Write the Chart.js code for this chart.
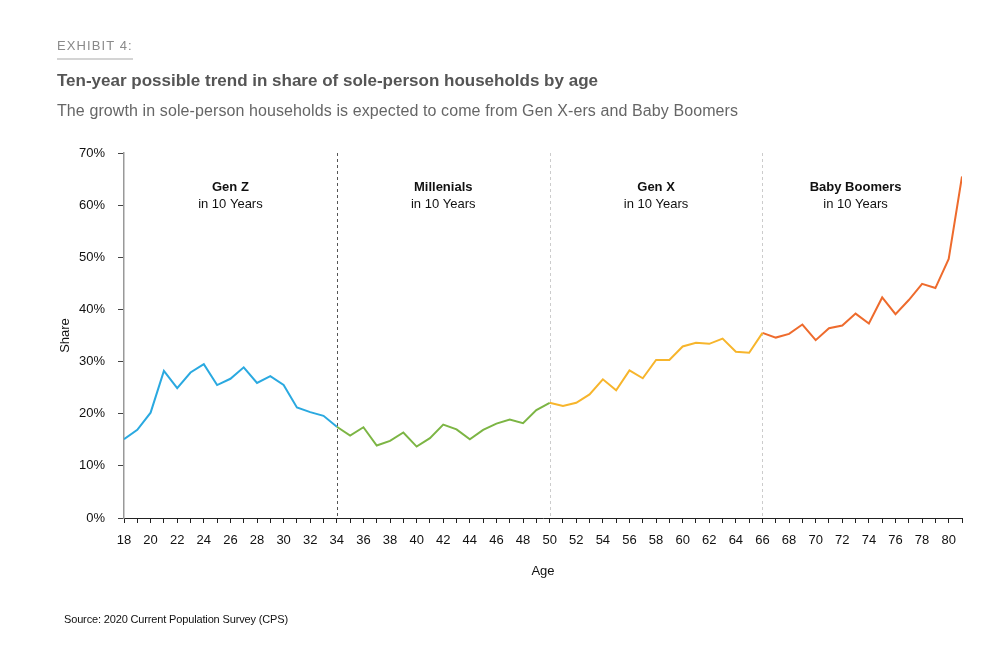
<!DOCTYPE html>
<html lang="en">
<head>
    <meta charset="UTF-8">
    <title>Exhibit 4</title>
    <script src="https://cdn.jsdelivr.net/npm/chart.js"></script>
    <style>
        body {
            margin: 0;
            padding: 0;
            background: #fff;
            font-family: 'Liberation Sans', Arial, sans-serif;
        }

        .page {
            position: relative;
            width: 1001px;
            height: 667px;
            overflow: hidden;
        }

        .exhibit {
            position: absolute;
            left: 57px;
            top: 38px;
            font-size: 13px;
            letter-spacing: 1.1px;
            color: #8a8a8a;
            padding-bottom: 5px;
            border-bottom: 2px solid #d4d4d4;
            width: 76px;
        }

        .title {
            position: absolute;
            left: 57px;
            top: 71px;
            font-size: 17px;
            font-weight: bold;
            color: #555;
        }

        .subtitle {
            position: absolute;
            left: 57px;
            top: 102px;
            font-size: 16px;
            color: #666;
            letter-spacing: 0.1px;
        }

        .source {
            position: absolute;
            left: 64px;
            top: 613px;
            font-size: 11px;
            color: #111;
            letter-spacing: -0.15px;
        }

        #chart-wrap {
            position: absolute;
            left: 0;
            top: 0;
            width: 1001px;
            height: 667px;
        }
    </style>
</head>
<body>
<div class="page">
    <div id="chart-wrap"><canvas id="chart"></canvas></div>
    <div class="exhibit">EXHIBIT 4:</div>
    <div class="title">Ten-year possible trend in share of sole-person households by age</div>
    <div class="subtitle">The growth in sole-person households is expected to come from Gen X-ers and Baby Boomers</div>
    <div class="source">Source: 2020 Current Population Survey (CPS)</div>
</div>
<script>
    // ages 18..81
    var ages = [18, 19, 20, 21, 22, 23, 24, 25, 26, 27, 28, 29, 30, 31, 32, 33,
        34, 35, 36, 37, 38, 39, 40, 41, 42, 43, 44, 45, 46, 47, 48, 49,
        50, 51, 52, 53, 54, 55, 56, 57, 58, 59, 60, 61, 62, 63, 64, 65,
        66, 67, 68, 69, 70, 71, 72, 73, 74, 75, 76, 77, 78, 79, 80, 81];

    // share of sole-person households, %
    var share = [15.1, 16.9, 20.2, 28.2, 24.9, 27.9, 29.5, 25.5, 26.7, 28.9, 25.9, 27.2, 25.5, 21.2, 20.3, 19.6,
        17.5, 15.8, 17.4, 13.9, 14.8, 16.4, 13.7, 15.3, 17.9, 17.0, 15.1, 16.9, 18.1, 18.9, 18.2, 20.7,
        22.1, 21.5, 22.1, 23.7, 26.6, 24.5, 28.3, 26.8, 30.3, 30.3, 32.9, 33.6, 33.4, 34.4, 31.9, 31.7,
        35.5, 34.6, 35.3, 37.1, 34.1, 36.4, 36.9, 39.2, 37.3, 42.3, 39.1, 41.8, 44.9, 44.1, 49.7, 65.5];

    var generations = ['Gen Z', 'Millenials', 'Gen X', 'Baby Boomers'];
    var genStart = [18, 34, 50, 66];
    var genEnd = [34, 50, 66, 81];
    var genColors = ['#2aa9e0', '#7cb544', '#f7b52c', '#ee6b2d'];
    var dividerColors = ['#555555', '#cccccc', '#cccccc'];
    var yTicks = [0, 10, 20, 30, 40, 50, 60, 70];

    function pointsFor(from, to) {
        var pts = [];
        for (var i = 0; i < ages.length; i++) {
            if (ages[i] >= from && ages[i] <= to) {
                pts.push({ x: ages[i], y: share[i] });
            }
        }
        return pts;
    }

    var datasets = generations.map(function (g, i) {
        return {
            label: g,
            data: pointsFor(genStart[i], genEnd[i]),
            borderColor: genColors[i],
            borderWidth: 2,
            pointRadius: 0,
            fill: false,
            tension: 0
        };
    });

    // dashed dividers and generation labels
    var overlay = {
        id: 'overlay',
        beforeDatasetsDraw: function (chart) {
            var ctx = chart.ctx;
            var area = chart.chartArea;
            var x = chart.scales.x;
            ctx.save();
            ctx.lineWidth = 1;
            for (var i = 1; i < genStart.length; i++) {
                var px = Math.round(x.getPixelForValue(genStart[i])) + 0.5;
                ctx.strokeStyle = dividerColors[i - 1];
                ctx.setLineDash([3, 3]);
                ctx.beginPath();
                ctx.moveTo(px, area.top);
                ctx.lineTo(px, area.bottom);
                ctx.stroke();
            }
            ctx.setLineDash([]);
            ctx.fillStyle = '#111';
            ctx.textAlign = 'center';
            ctx.textBaseline = 'middle';
            for (var j = 0; j < generations.length; j++) {
                var cx = x.getPixelForValue((genStart[j] + genEnd[j] - (j === 3 ? 1 : 0)) / 2);
                ctx.font = 'bold 13px "Liberation Sans", Arial, sans-serif';
                ctx.fillText(generations[j], cx, area.top + 34);
                ctx.font = '13px "Liberation Sans", Arial, sans-serif';
                ctx.fillText('in 10 Years', cx, area.top + 51);
            }
            ctx.restore();
        }
    };

    Chart.defaults.font.family = '"Liberation Sans", Arial, sans-serif';
    Chart.defaults.color = '#111';

    var ctx = document.getElementById('chart').getContext('2d');
    var chart = new Chart(ctx, {
        type: 'line',
        data: { datasets: datasets },
        plugins: [overlay],
        options: {
            responsive: true,
            maintainAspectRatio: false,
            animation: false,
            layout: {
                padding: { left: 57, top: 153, right: 39, bottom: 79 }
            },
            plugins: {
                legend: { display: false },
                tooltip: { enabled: false }
            },
            scales: {
                x: {
                    type: 'linear',
                    min: 18,
                    max: 81,
                    afterFit: function (s) { s.height = 70; },
                    afterBuildTicks: function (s) {
                        s.ticks = ages.map(function (a) { return { value: a }; });
                    },
                    ticks: {
                        autoSkip: false,
                        maxRotation: 0,
                        padding: 10,
                        font: { size: 13 },
                        color: '#111',
                        callback: function (v) { return v % 2 === 0 && v <= 80 ? v : ''; }
                    },
                    grid: {
                        drawOnChartArea: false,
                        tickLength: 5,
                        color: '#222'
                    },
                    border: { color: '#222', width: 1 },
                    title: {
                        display: true,
                        text: 'Age',
                        font: { size: 13 },
                        color: '#111',
                        padding: { top: 0, bottom: 9 }
                    }
                },
                y: {
                    min: 0,
                    max: 70,
                    afterFit: function (s) { s.width = 67; },
                    afterBuildTicks: function (s) {
                        s.ticks = yTicks.map(function (t) { return { value: t }; });
                    },
                    ticks: {
                        padding: 13,
                        font: { size: 13 },
                        color: '#111',
                        callback: function (v) { return v + '%'; }
                    },
                    grid: {
                        drawOnChartArea: false,
                        tickLength: 6,
                        color: '#444'
                    },
                    border: { color: '#999', width: 1.5 },
                    title: {
                        display: true,
                        text: 'Share',
                        font: { size: 13 },
                        color: '#111',
                        padding: { top: 1, bottom: 0 }
                    }
                }
            }
        }
    });
</script>
</body>
</html>
